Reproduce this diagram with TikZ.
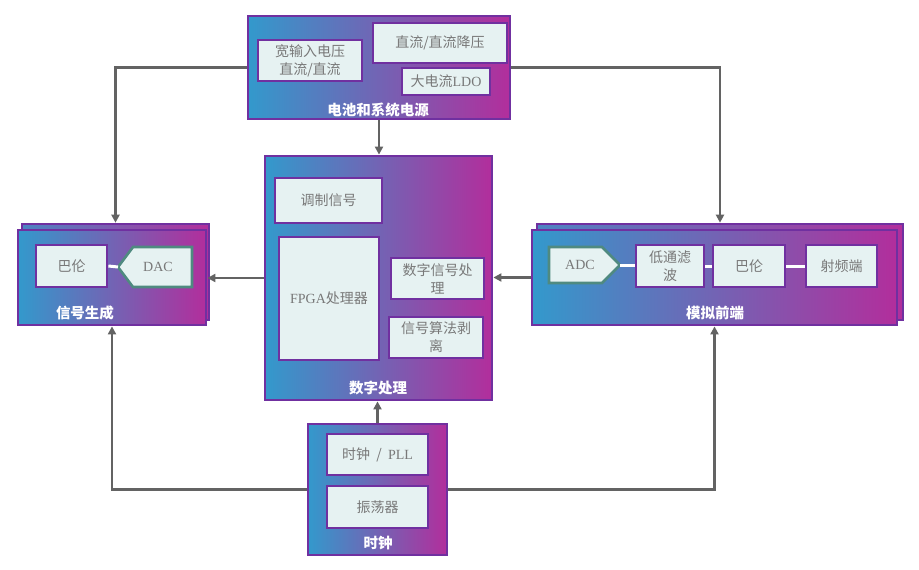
\documentclass[tikz,border=0pt]{standalone}
\usepackage{fontspec}
\setmainfont{Liberation Serif}
\newfontfamily\cjk{Noto Sans CJK SC}
\usetikzlibrary{arrows.meta,positioning}
\definecolor{gblue}{HTML}{3399CC}
\definecolor{gmag}{HTML}{B22E9C}
\definecolor{bpurple}{HTML}{7030A0}
\definecolor{ifill}{HTML}{E6F2F2}
\definecolor{itext}{HTML}{787878}
\definecolor{teal1}{HTML}{4F8A80}
\definecolor{lgray}{HTML}{636363}
\tikzset{
  outerbox/.style={draw=bpurple, line width=2.8pt, left color=gblue, right color=gmag, rectangle, inner sep=0pt},
  backbox/.style={draw=bpurple, line width=2.6pt, left color=gblue!80!gmag, right color=gmag, rectangle, inner sep=0pt},
  innerbox/.style={draw=bpurple, line width=2.8pt, fill=ifill, rectangle, inner sep=1pt, align=center, text=itext, font=\cjk\fontsize{14}{18}\selectfont},
  convpath/.style={draw=teal1, line width=2.6pt, fill=ifill, line join=miter},
  convtext/.style={text=itext, font=\fontsize{14}{15}\selectfont, inner sep=0pt},
  titletext/.style={text=white, font=\cjk\bfseries\fontsize{14.5}{16}\selectfont, inner sep=0pt},
  arr/.style={draw=lgray, line width=2.4pt, -{Triangle[length=8pt,width=8pt]}},
  wline/.style={draw=white, line width=3pt},
}
\begin{document}
\begin{tikzpicture}[x=1pt,y=-1pt]
\useasboundingbox[fill=white] (0,0) rectangle (919,570);
% outer boxes
\node[backbox, minimum width=187pt, minimum height=96pt] (sgback) at (115.5,272) {};
\node[outerbox, minimum width=188pt, minimum height=95pt] (sg) at (112,277.5) {};
\node[backbox, minimum width=366pt, minimum height=96pt] (afeback) at (720,272) {};
\node[outerbox, minimum width=365pt, minimum height=95pt] (afe) at (714.5,277.5) {};
\node[outerbox, minimum width=262pt, minimum height=103pt] (power) at (379,67.5) {};
\node[outerbox, minimum width=227pt, minimum height=244pt] (dig) at (378.5,278) {};
\node[outerbox, minimum width=139pt, minimum height=131pt] (clk) at (377.5,489.5) {};
% power inner
\node[innerbox, minimum width=104pt, minimum height=41pt] (wide) at (310,60.5) {宽输入电压\\直流/直流};
\node[innerbox, minimum width=134pt, minimum height=40pt] (buck) at (440,43) {直流/直流降压};
\node[innerbox, minimum width=88pt, minimum height=27pt] (ldo) at (446,81.5) {大电流\textrm{LDO}};
\node[titletext] (tpower) at (378,110) {电池和系统电源};
% signal gen inner
\node[innerbox, minimum width=71pt, minimum height=42pt] (balun1) at (71.5,266) {巴伦};
\draw[convpath] (118,267) coordinate (dactip) -- (133,247) -- (192,247) -- (192,287) -- (133,287) -- cycle;
\node[convtext] (dac) at (158,267) {DAC};
\draw[wline] (balun1.east) -- (dactip);
\node[titletext] (tsg) at (85,313) {信号生成};
% AFE inner
\draw[convpath] (549,247) -- (602,247) -- (620,265) coordinate (adctip) -- (602,283) -- (549,283) -- cycle;
\node[convtext] (adc) at (580,265) {ADC};
\node[innerbox, minimum width=68pt, minimum height=42pt] (lpf) at (670,266) {低通滤\\波};
\node[innerbox, minimum width=72pt, minimum height=42pt] (balun2) at (749,266) {巴伦};
\node[innerbox, minimum width=71pt, minimum height=42pt] (rf) at (841.5,266) {射频端};
\draw[wline] (adctip) -- (adctip -| lpf.west);
\draw[wline] (lpf.east) -- (balun2.west);
\draw[wline] (balun2.east) -- (rf.west);
\node[titletext] (tafe) at (715,313) {模拟前端};
% digital inner
\node[innerbox, minimum width=107pt, minimum height=45pt] (mod) at (328.5,200.5) {调制信号};
\node[innerbox, minimum width=100pt, minimum height=123pt] (fpga) at (329,298.5) {\textrm{FPGA}处理器};
\node[innerbox, minimum width=93pt, minimum height=41pt] (dsp) at (437.5,278.5) {数字信号处\\理};
\node[innerbox, minimum width=94pt, minimum height=41pt] (alg) at (436,337.5) {信号算法剥\\离};
\node[titletext] (tdig) at (378,388) {数字处理};
% clock inner
\node[innerbox, minimum width=101pt, minimum height=41pt] (pll) at (377.5,454.5) {时钟\ \ /\ \ \textrm{PLL}};
\node[innerbox, minimum width=101pt, minimum height=42pt] (osc) at (377.5,507) {振荡器};
\node[titletext] (tclk) at (378,543) {时钟};
% connectors
\draw[arr] (power.west) -| (sgback.north);
\draw[arr] (power.east) -| (afeback.north);
\draw[arr] (power.south) -- (power.south |- dig.north);
\draw[arr] (dig.west) -- (dig.west -| sg.east);
\draw[arr] (afe.west) -- (afe.west -| dig.east);
\draw[arr] (clk.north) -- (clk.north |- dig.south);
\draw[arr] (clk.west) -| (sg.south);
\draw[arr] (clk.east) -| (afe.south);
\end{tikzpicture}
\end{document}
